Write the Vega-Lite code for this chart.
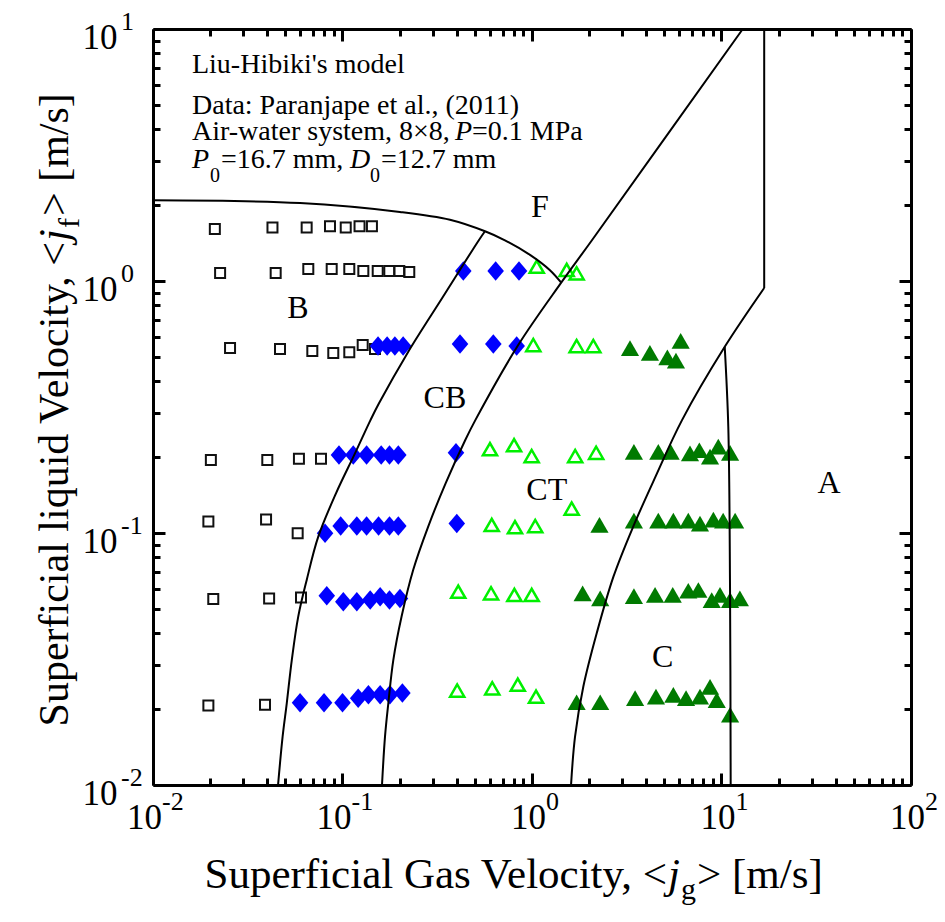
{
  "$schema": "https://vega.github.io/schema/vega-lite/v6.json",
  "width": 758,
  "height": 756,
  "autosize": "none",
  "padding": {"left": 153, "top": 29, "right": 34, "bottom": 137},
  "background": "white",
  "config": {"view": {"stroke": null}, "font": "Liberation Serif", "text": {"font": "Liberation Serif", "color": "#000000"}},
  "datasets": {
    "pts": [
      {"jg": 0.0212, "jf": 1.61, "r": "B"}, {"jg": 0.0427, "jf": 1.63, "r": "B"}, {"jg": 0.0647, "jf": 1.63, "r": "B"}, {"jg": 0.0859, "jf": 1.65, "r": "B"}, {"jg": 0.104, "jf": 1.63, "r": "B"}, {"jg": 0.123, "jf": 1.65, "r": "B"}, {"jg": 0.143, "jf": 1.65, "r": "B"},
      {"jg": 0.0226, "jf": 1.077, "r": "B"}, {"jg": 0.0444, "jf": 1.077, "r": "B"}, {"jg": 0.066, "jf": 1.116, "r": "B"}, {"jg": 0.0877, "jf": 1.116, "r": "B"}, {"jg": 0.1086, "jf": 1.116, "r": "B"}, {"jg": 0.1288, "jf": 1.096, "r": "B"}, {"jg": 0.1534, "jf": 1.096, "r": "B"}, {"jg": 0.1766, "jf": 1.096, "r": "B"}, {"jg": 0.1994, "jf": 1.096, "r": "B"}, {"jg": 0.2251, "jf": 1.086, "r": "B"},
      {"jg": 0.0255, "jf": 0.542, "r": "B"}, {"jg": 0.0468, "jf": 0.537, "r": "B"}, {"jg": 0.0693, "jf": 0.527, "r": "B"}, {"jg": 0.0894, "jf": 0.518, "r": "B"}, {"jg": 0.1086, "jf": 0.522, "r": "B"}, {"jg": 0.1278, "jf": 0.557, "r": "B"}, {"jg": 0.1484, "jf": 0.537, "r": "B"},
      {"jg": 0.0202, "jf": 0.195, "r": "B"}, {"jg": 0.0401, "jf": 0.195, "r": "B"}, {"jg": 0.0589, "jf": 0.197, "r": "B"}, {"jg": 0.077, "jf": 0.197, "r": "B"},
      {"jg": 0.0196, "jf": 0.111, "r": "B"}, {"jg": 0.0395, "jf": 0.113, "r": "B"}, {"jg": 0.058, "jf": 0.0998, "r": "B"},
      {"jg": 0.0208, "jf": 0.0547, "r": "B"}, {"jg": 0.041, "jf": 0.055, "r": "B"}, {"jg": 0.0604, "jf": 0.0555, "r": "B"},
      {"jg": 0.0196, "jf": 0.0207, "r": "B"}, {"jg": 0.039, "jf": 0.0208, "r": "B"},
      {"jg": 0.154, "jf": 0.552, "r": "CB"}, {"jg": 0.172, "jf": 0.552, "r": "CB"}, {"jg": 0.189, "jf": 0.552, "r": "CB"}, {"jg": 0.209, "jf": 0.552, "r": "CB"},
      {"jg": 0.434, "jf": 1.096, "r": "CB"}, {"jg": 0.643, "jf": 1.096, "r": "CB"}, {"jg": 0.854, "jf": 1.096, "r": "CB"},
      {"jg": 0.417, "jf": 0.562, "r": "CB"}, {"jg": 0.625, "jf": 0.562, "r": "CB"}, {"jg": 0.83, "jf": 0.552, "r": "CB"},
      {"jg": 0.0958, "jf": 0.204, "r": "CB"}, {"jg": 0.114, "jf": 0.204, "r": "CB"}, {"jg": 0.134, "jf": 0.204, "r": "CB"}, {"jg": 0.16, "jf": 0.204, "r": "CB"}, {"jg": 0.177, "jf": 0.204, "r": "CB"}, {"jg": 0.197, "jf": 0.204, "r": "CB"}, {"jg": 0.397, "jf": 0.208, "r": "CB"},
      {"jg": 0.0809, "jf": 0.0998, "r": "CB"}, {"jg": 0.0978, "jf": 0.1066, "r": "CB"}, {"jg": 0.119, "jf": 0.1066, "r": "CB"}, {"jg": 0.134, "jf": 0.1066, "r": "CB"}, {"jg": 0.155, "jf": 0.1066, "r": "CB"}, {"jg": 0.177, "jf": 0.1066, "r": "CB"}, {"jg": 0.197, "jf": 0.1066, "r": "CB"}, {"jg": 0.401, "jf": 0.109, "r": "CB"},
      {"jg": 0.0826, "jf": 0.0564, "r": "CB"}, {"jg": 0.101, "jf": 0.0533, "r": "CB"}, {"jg": 0.119, "jf": 0.0533, "r": "CB"}, {"jg": 0.14, "jf": 0.0542, "r": "CB"}, {"jg": 0.158, "jf": 0.0558, "r": "CB"}, {"jg": 0.177, "jf": 0.0542, "r": "CB"}, {"jg": 0.201, "jf": 0.055, "r": "CB"},
      {"jg": 0.0597, "jf": 0.0212, "r": "CB"}, {"jg": 0.0799, "jf": 0.0212, "r": "CB"}, {"jg": 0.1, "jf": 0.0212, "r": "CB"}, {"jg": 0.121, "jf": 0.0221, "r": "CB"}, {"jg": 0.137, "jf": 0.0228, "r": "CB"}, {"jg": 0.158, "jf": 0.0228, "r": "CB"}, {"jg": 0.178, "jf": 0.0228, "r": "CB"}, {"jg": 0.207, "jf": 0.0232, "r": "CB"},
      {"jg": 1.059, "jf": 1.14, "r": "CT"}, {"jg": 1.524, "jf": 1.106, "r": "CT"}, {"jg": 1.72, "jf": 1.073, "r": "CT"},
      {"jg": 1.016, "jf": 0.557, "r": "CT"}, {"jg": 1.72, "jf": 0.552, "r": "CT"}, {"jg": 2.107, "jf": 0.552, "r": "CT"},
      {"jg": 0.6, "jf": 0.215, "r": "CT"}, {"jg": 0.804, "jf": 0.223, "r": "CT"}, {"jg": 0.996, "jf": 0.202, "r": "CT"}, {"jg": 1.69, "jf": 0.202, "r": "CT"}, {"jg": 2.18, "jf": 0.208, "r": "CT"},
      {"jg": 1.62, "jf": 0.125, "r": "CT"},
      {"jg": 0.613, "jf": 0.1076, "r": "CT"}, {"jg": 0.813, "jf": 0.1054, "r": "CT"}, {"jg": 1.04, "jf": 0.1066, "r": "CT"},
      {"jg": 0.408, "jf": 0.0585, "r": "CT"}, {"jg": 0.608, "jf": 0.0576, "r": "CT"}, {"jg": 0.807, "jf": 0.0568, "r": "CT"}, {"jg": 0.996, "jf": 0.0568, "r": "CT"},
      {"jg": 0.403, "jf": 0.0237, "r": "CT"}, {"jg": 0.617, "jf": 0.0242, "r": "CT"}, {"jg": 0.841, "jf": 0.025, "r": "CT"}, {"jg": 1.05, "jf": 0.0224, "r": "CT"},
      {"jg": 3.29, "jf": 0.541, "r": "C"}, {"jg": 4.19, "jf": 0.519, "r": "C"}, {"jg": 5.18, "jf": 0.498, "r": "C"}, {"jg": 5.75, "jf": 0.483, "r": "C"}, {"jg": 6.09, "jf": 0.579, "r": "C"},
      {"jg": 3.45, "jf": 0.21, "r": "C"}, {"jg": 4.64, "jf": 0.21, "r": "C"}, {"jg": 5.39, "jf": 0.21, "r": "C"}, {"jg": 6.82, "jf": 0.207, "r": "C"}, {"jg": 7.64, "jf": 0.213, "r": "C"}, {"jg": 8.7, "jf": 0.201, "r": "C"}, {"jg": 9.62, "jf": 0.22, "r": "C"}, {"jg": 11.1, "jf": 0.208, "r": "C"},
      {"jg": 2.27, "jf": 0.1076, "r": "C"}, {"jg": 3.45, "jf": 0.112, "r": "C"}, {"jg": 4.64, "jf": 0.112, "r": "C"}, {"jg": 5.57, "jf": 0.112, "r": "C"}, {"jg": 6.68, "jf": 0.112, "r": "C"}, {"jg": 7.7, "jf": 0.109, "r": "C"}, {"jg": 9.06, "jf": 0.113, "r": "C"}, {"jg": 10.2, "jf": 0.112, "r": "C"}, {"jg": 11.8, "jf": 0.112, "r": "C"},
      {"jg": 1.85, "jf": 0.0576, "r": "C"}, {"jg": 2.29, "jf": 0.055, "r": "C"}, {"jg": 3.45, "jf": 0.0562, "r": "C"}, {"jg": 4.46, "jf": 0.0568, "r": "C"}, {"jg": 5.53, "jf": 0.0568, "r": "C"}, {"jg": 6.68, "jf": 0.059, "r": "C"}, {"jg": 7.55, "jf": 0.0594, "r": "C"}, {"jg": 8.88, "jf": 0.0542, "r": "C"}, {"jg": 9.82, "jf": 0.0568, "r": "C"}, {"jg": 11.1, "jf": 0.0542, "r": "C"}, {"jg": 12.5, "jf": 0.055, "r": "C"},
      {"jg": 1.72, "jf": 0.0213, "r": "C"}, {"jg": 2.29, "jf": 0.0213, "r": "C"}, {"jg": 3.5, "jf": 0.0221, "r": "C"}, {"jg": 4.51, "jf": 0.0224, "r": "C"}, {"jg": 5.57, "jf": 0.0228, "r": "C"}, {"jg": 6.5, "jf": 0.0221, "r": "C"}, {"jg": 7.7, "jf": 0.0224, "r": "C"}, {"jg": 8.7, "jf": 0.0245, "r": "C"}, {"jg": 9.44, "jf": 0.0217, "r": "C"}, {"jg": 11.1, "jf": 0.019, "r": "C"}
    ],
    "curves": [
      {"c": "BF", "i": 0, "jg": 0.01, "jf": 2.09}, {"c": "BF", "i": 1, "jg": 0.0597, "jf": 2.04}, {"c": "BF", "i": 2, "jg": 0.201, "jf": 1.88}, {"c": "BF", "i": 3, "jg": 0.369, "jf": 1.75}, {"c": "BF", "i": 4, "jg": 0.565, "jf": 1.575}, {"c": "BF", "i": 5, "jg": 0.72, "jf": 1.45}, {"c": "BF", "i": 6, "jg": 0.976, "jf": 1.27}, {"c": "BF", "i": 7, "jg": 1.24, "jf": 1.106}, {"c": "BF", "i": 8, "jg": 1.426, "jf": 0.985},
      {"c": "BCB", "i": 0, "jg": 0.0457, "jf": 0.01}, {"c": "BCB", "i": 1, "jg": 0.0483, "jf": 0.01556}, {"c": "BCB", "i": 2, "jg": 0.0508, "jf": 0.0211}, {"c": "BCB", "i": 3, "jg": 0.054, "jf": 0.0313}, {"c": "BCB", "i": 4, "jg": 0.0584, "jf": 0.0466}, {"c": "BCB", "i": 5, "jg": 0.0647, "jf": 0.065}, {"c": "BCB", "i": 6, "jg": 0.0745, "jf": 0.0967}, {"c": "BCB", "i": 7, "jg": 0.0924, "jf": 0.1437}, {"c": "BCB", "i": 8, "jg": 0.1164, "jf": 0.207}, {"c": "BCB", "i": 9, "jg": 0.1405, "jf": 0.2805}, {"c": "BCB", "i": 10, "jg": 0.1558, "jf": 0.327}, {"c": "BCB", "i": 11, "jg": 0.2216, "jf": 0.522}, {"c": "BCB", "i": 12, "jg": 0.3391, "jf": 0.866}, {"c": "BCB", "i": 13, "jg": 0.5252, "jf": 1.455}, {"c": "BCB", "i": 14, "jg": 0.565, "jf": 1.575},
      {"c": "CBCT", "i": 0, "jg": 0.1616, "jf": 0.01}, {"c": "CBCT", "i": 1, "jg": 0.1676, "jf": 0.01556}, {"c": "CBCT", "i": 2, "jg": 0.1745, "jf": 0.0211}, {"c": "CBCT", "i": 3, "jg": 0.1854, "jf": 0.0313}, {"c": "CBCT", "i": 4, "jg": 0.205, "jf": 0.0466}, {"c": "CBCT", "i": 5, "jg": 0.236, "jf": 0.0713}, {"c": "CBCT", "i": 6, "jg": 0.2833, "jf": 0.106}, {"c": "CBCT", "i": 7, "jg": 0.35, "jf": 0.1575}, {"c": "CBCT", "i": 8, "jg": 0.4446, "jf": 0.234}, {"c": "CBCT", "i": 9, "jg": 0.5024, "jf": 0.2805}, {"c": "CBCT", "i": 10, "jg": 0.8457, "jf": 0.557}, {"c": "CBCT", "i": 11, "jg": 1.426, "jf": 0.985}, {"c": "CBCT", "i": 12, "jg": 2.076, "jf": 1.455}, {"c": "CBCT", "i": 13, "jg": 12.95, "jf": 10},
      {"c": "CTC", "i": 0, "jg": 1.607, "jf": 0.01}, {"c": "CTC", "i": 1, "jg": 1.687, "jf": 0.01556}, {"c": "CTC", "i": 2, "jg": 1.865, "jf": 0.02455}, {"c": "CTC", "i": 3, "jg": 2.195, "jf": 0.04}, {"c": "CTC", "i": 4, "jg": 2.69, "jf": 0.0671}, {"c": "CTC", "i": 5, "jg": 3.42, "jf": 0.106}, {"c": "CTC", "i": 6, "jg": 4.485, "jf": 0.1673}, {"c": "CTC", "i": 7, "jg": 6.19, "jf": 0.2805}, {"c": "CTC", "i": 8, "jg": 10.4, "jf": 0.548}, {"c": "CTC", "i": 9, "jg": 16.8, "jf": 0.938},
      {"c": "CTCV", "i": 0, "jg": 16.8, "jf": 0.938}, {"c": "CTCV", "i": 1, "jg": 16.8, "jf": 10},
      {"c": "CA", "i": 0, "jg": 10.4, "jf": 0.548}, {"c": "CA", "i": 1, "jg": 10.86, "jf": 0.264}, {"c": "CA", "i": 2, "jg": 11.09, "jf": 0.0612}, {"c": "CA", "i": 3, "jg": 11.18, "jf": 0.01}
    ],
    "regions": [
      {"jg": 0.0582, "jf": 0.782, "t": "B"}, {"jg": 1.1, "jf": 1.97, "t": "F"}, {"jg": 0.347, "jf": 0.343, "t": "CB"}, {"jg": 1.196, "jf": 0.148, "t": "CT"}, {"jg": 4.9, "jf": 0.0323, "t": "C"}, {"jg": 36.9, "jf": 0.158, "t": "A"}
    ],
    "notes": [
      {"jg": 0.01606, "jf": 7.22, "t": "Liu-Hibiki's model"},
      {"jg": 0.01606, "jf": 4.95, "t": "Data: Paranjape et al., (2011)"},
      {"jg": 0.01606, "jf": 3.885, "t": "Air-water system, 8×8, "}
    ],
    "xexp": [{"v": 0.01, "e": "-2"}, {"v": 0.1, "e": "-1"}, {"v": 1, "e": "0"}, {"v": 10, "e": "1"}, {"v": 100, "e": "2"}],
    "yexp": [{"v": 0.01, "e": "-2"}, {"v": 0.1, "e": "-1"}, {"v": 1, "e": "0"}, {"v": 10, "e": "1"}]
  },
  "layer": [
    {
      "data": {"name": "pts"},
      "transform": [{"filter": "datum.r === 'B'"}],
      "mark": {"type": "point", "shape": "square", "filled": false, "size": 100, "strokeWidth": 2, "color": "#111111", "opacity": 1},
      "encoding": {
        "x": {"field": "jg", "type": "quantitative", "scale": {"type": "log", "domain": [0.01, 100], "nice": false},
          "axis": {"orient": "bottom", "title": null, "grid": false,
            "values": [0.01,0.02,0.03,0.04,0.05,0.06,0.07,0.08,0.09,0.1,0.2,0.3,0.4,0.5,0.6,0.7,0.8,0.9,1,2,3,4,5,6,7,8,9,10,20,30,40,50,60,70,80,90,100],
            "domainColor": "#000000", "domainWidth": 3, "tickColor": "#000000", "tickWidth": 3,
            "tickSize": {"condition": {"test": "abs(log(datum.value)/LN10 - round(log(datum.value)/LN10)) < 0.001", "value": -12}, "value": -7},
            "labelExpr": "abs(log(datum.value)/LN10 - round(log(datum.value)/LN10)) < 0.001 ? '10' : ''",
            "labelFont": "Liberation Serif", "labelFontSize": 35, "labelColor": "#000000", "labelPadding": 27,
            "labelFlush": false, "labelOverlap": false, "labelBound": false,
            "labelOffset": {"condition": {"test": "datum.value < 0.9", "value": -9}, "value": -4}}},
        "y": {"field": "jf", "type": "quantitative", "scale": {"type": "log", "domain": [0.01, 10], "nice": false},
          "axis": {"orient": "left", "title": null, "grid": false,
            "values": [0.01,0.02,0.03,0.04,0.05,0.06,0.07,0.08,0.09,0.1,0.2,0.3,0.4,0.5,0.6,0.7,0.8,0.9,1,2,3,4,5,6,7,8,9,10],
            "domainColor": "#000000", "domainWidth": 3, "tickColor": "#000000", "tickWidth": 3,
            "tickSize": {"condition": {"test": "abs(log(datum.value)/LN10 - round(log(datum.value)/LN10)) < 0.001", "value": -12}, "value": -7},
            "labelExpr": "abs(log(datum.value)/LN10 - round(log(datum.value)/LN10)) < 0.001 ? '10' : ''",
            "labelFont": "Liberation Serif", "labelFontSize": 35, "labelColor": "#000000", "labelPadding": 48,
            "labelFlush": false, "labelOverlap": false, "labelBound": false, "labelOffset": 8}}
      }
    },
    {
      "data": {"name": "pts"},
      "transform": [{"filter": "datum.r === 'CB'"}],
      "mark": {"type": "point", "shape": "M0,-1L0.85,0L0,1L-0.85,0Z", "filled": true, "size": 380, "color": "#0000FF", "opacity": 1},
      "encoding": {
        "x": {"field": "jg", "type": "quantitative", "scale": {"type": "log", "domain": [0.01, 100], "nice": false},
          "axis": {"orient": "top", "title": null, "grid": false, "labels": false,
            "values": [0.01,0.02,0.03,0.04,0.05,0.06,0.07,0.08,0.09,0.1,0.2,0.3,0.4,0.5,0.6,0.7,0.8,0.9,1,2,3,4,5,6,7,8,9,10,20,30,40,50,60,70,80,90,100],
            "domainColor": "#000000", "domainWidth": 3, "tickColor": "#000000", "tickWidth": 3,
            "tickSize": {"condition": {"test": "abs(log(datum.value)/LN10 - round(log(datum.value)/LN10)) < 0.001", "value": -12}, "value": -7}}},
        "y": {"field": "jf", "type": "quantitative", "scale": {"type": "log", "domain": [0.01, 10], "nice": false},
          "axis": {"orient": "right", "title": null, "grid": false, "labels": false,
            "values": [0.01,0.02,0.03,0.04,0.05,0.06,0.07,0.08,0.09,0.1,0.2,0.3,0.4,0.5,0.6,0.7,0.8,0.9,1,2,3,4,5,6,7,8,9,10],
            "domainColor": "#000000", "domainWidth": 3, "tickColor": "#000000", "tickWidth": 3,
            "tickSize": {"condition": {"test": "abs(log(datum.value)/LN10 - round(log(datum.value)/LN10)) < 0.001", "value": -12}, "value": -7}}}
      }
    },
    {
      "data": {"name": "pts"},
      "transform": [{"filter": "datum.r === 'CT'"}],
      "mark": {"type": "point", "shape": "triangle-up", "filled": false, "size": 200, "strokeWidth": 2.5, "color": "#00F000", "opacity": 1},
      "encoding": {
        "x": {"field": "jg", "type": "quantitative", "scale": {"type": "log", "domain": [0.01, 100], "nice": false}, "axis": null},
        "y": {"field": "jf", "type": "quantitative", "scale": {"type": "log", "domain": [0.01, 10], "nice": false}, "axis": null}
      }
    },
    {
      "data": {"name": "pts"},
      "transform": [{"filter": "datum.r === 'C'"}],
      "mark": {"type": "point", "shape": "triangle-up", "filled": true, "size": 330, "color": "#007A00", "opacity": 1},
      "encoding": {
        "x": {"field": "jg", "type": "quantitative", "scale": {"type": "log", "domain": [0.01, 100], "nice": false}, "axis": null},
        "y": {"field": "jf", "type": "quantitative", "scale": {"type": "log", "domain": [0.01, 10], "nice": false}, "axis": null}
      }
    },
    {
      "data": {"name": "curves"},
      "mark": {"type": "line", "color": "#000000", "strokeWidth": 2, "interpolate": "catmull-rom"},
      "encoding": {
        "x": {"field": "jg", "type": "quantitative", "scale": {"type": "log", "domain": [0.01, 100], "nice": false}, "axis": null},
        "y": {"field": "jf", "type": "quantitative", "scale": {"type": "log", "domain": [0.01, 10], "nice": false}, "axis": null},
        "detail": {"field": "c", "type": "nominal"},
        "order": {"field": "i", "type": "quantitative"}
      }
    },
    {
      "data": {"name": "regions"},
      "mark": {"type": "text", "fontSize": 32, "align": "center", "baseline": "middle", "font": "Liberation Serif", "color": "#000000"},
      "encoding": {
        "x": {"field": "jg", "type": "quantitative", "scale": {"type": "log", "domain": [0.01, 100], "nice": false}, "axis": null},
        "y": {"field": "jf", "type": "quantitative", "scale": {"type": "log", "domain": [0.01, 10], "nice": false}, "axis": null},
        "text": {"field": "t"}
      }
    },
    {
      "data": {"name": "notes"},
      "mark": {"type": "text", "fontSize": 28, "align": "left", "baseline": "middle", "font": "Liberation Serif", "color": "#000000"},
      "encoding": {
        "x": {"field": "jg", "type": "quantitative", "scale": {"type": "log", "domain": [0.01, 100], "nice": false}, "axis": null},
        "y": {"field": "jf", "type": "quantitative", "scale": {"type": "log", "domain": [0.01, 10], "nice": false}, "axis": null},
        "text": {"field": "t"}
      }
    },
    {
      "data": {"values": [{"a": "P", "b": "=0.1 MPa"}]},
      "encoding": {
        "x": {"datum": 0.01606, "type": "quantitative", "scale": {"type": "log", "domain": [0.01, 100], "nice": false}, "axis": null},
        "y": {"datum": 3.885, "type": "quantitative", "scale": {"type": "log", "domain": [0.01, 10], "nice": false}, "axis": null}
      },
      "layer": [
        {"mark": {"type": "text", "fontSize": 28, "fontStyle": "italic", "align": "left", "baseline": "middle", "dx": 263, "font": "Liberation Serif", "color": "#000000"}, "encoding": {"text": {"field": "a"}}},
        {"mark": {"type": "text", "fontSize": 28, "align": "left", "baseline": "middle", "dx": 280, "font": "Liberation Serif", "color": "#000000"}, "encoding": {"text": {"field": "b"}}}
      ]
    },
    {
      "data": {"values": [{"p": "P", "z": "0", "a": "=16.7 mm,", "d": "D", "b": "=12.7 mm"}]},
      "encoding": {
        "x": {"datum": 0.01606, "type": "quantitative", "scale": {"type": "log", "domain": [0.01, 100], "nice": false}, "axis": null},
        "y": {"datum": 3.02, "type": "quantitative", "scale": {"type": "log", "domain": [0.01, 10], "nice": false}, "axis": null}
      },
      "layer": [
        {"mark": {"type": "text", "fontSize": 28, "fontStyle": "italic", "align": "left", "baseline": "middle", "dx": 0, "font": "Liberation Serif", "color": "#000000"}, "encoding": {"text": {"field": "p"}}},
        {"mark": {"type": "text", "fontSize": 20, "align": "left", "baseline": "middle", "dx": 18, "dy": 16, "font": "Liberation Serif", "color": "#000000"}, "encoding": {"text": {"field": "z"}}},
        {"mark": {"type": "text", "fontSize": 28, "align": "left", "baseline": "middle", "dx": 29, "font": "Liberation Serif", "color": "#000000"}, "encoding": {"text": {"field": "a"}}},
        {"mark": {"type": "text", "fontSize": 28, "fontStyle": "italic", "align": "left", "baseline": "middle", "dx": 158, "font": "Liberation Serif", "color": "#000000"}, "encoding": {"text": {"field": "d"}}},
        {"mark": {"type": "text", "fontSize": 20, "align": "left", "baseline": "middle", "dx": 178, "dy": 16, "font": "Liberation Serif", "color": "#000000"}, "encoding": {"text": {"field": "z"}}},
        {"mark": {"type": "text", "fontSize": 28, "align": "left", "baseline": "middle", "dx": 189, "font": "Liberation Serif", "color": "#000000"}, "encoding": {"text": {"field": "b"}}}
      ]
    },
    {
      "data": {"name": "xexp"},
      "transform": [{"filter": "datum.v < 0.9"}],
      "mark": {"type": "text", "fontSize": 26, "align": "left", "baseline": "middle", "dx": 9, "dy": 17, "font": "Liberation Serif", "color": "#000000"},
      "encoding": {
        "x": {"field": "v", "type": "quantitative", "scale": {"type": "log", "domain": [0.01, 100], "nice": false}, "axis": null},
        "y": {"datum": 0.01, "type": "quantitative", "scale": {"type": "log", "domain": [0.01, 10], "nice": false}, "axis": null},
        "text": {"field": "e"}
      }
    },
    {
      "data": {"name": "xexp"},
      "transform": [{"filter": "datum.v > 0.9"}],
      "mark": {"type": "text", "fontSize": 26, "align": "left", "baseline": "middle", "dx": 14, "dy": 17, "font": "Liberation Serif", "color": "#000000"},
      "encoding": {
        "x": {"field": "v", "type": "quantitative", "scale": {"type": "log", "domain": [0.01, 100], "nice": false}, "axis": null},
        "y": {"datum": 0.01, "type": "quantitative", "scale": {"type": "log", "domain": [0.01, 10], "nice": false}, "axis": null},
        "text": {"field": "e"}
      }
    },
    {
      "data": {"name": "yexp"},
      "mark": {"type": "text", "fontSize": 26, "align": "left", "baseline": "middle", "dx": -32, "dy": -7, "font": "Liberation Serif", "color": "#000000"},
      "encoding": {
        "x": {"datum": 0.01, "type": "quantitative", "scale": {"type": "log", "domain": [0.01, 100], "nice": false}, "axis": null},
        "y": {"field": "v", "type": "quantitative", "scale": {"type": "log", "domain": [0.01, 10], "nice": false}, "axis": null},
        "text": {"field": "e"}
      }
    },
    {
      "data": {"values": [{"t1": "Superficial Gas Velocity, <", "t2": "j", "t3": "g", "t4": "> [m/s]"}]},
      "encoding": {
        "x": {"datum": 5.159, "type": "quantitative", "scale": {"type": "log", "domain": [0.01, 100], "nice": false}, "axis": null},
        "y": {"datum": 0.01, "type": "quantitative", "scale": {"type": "log", "domain": [0.01, 10], "nice": false}, "axis": null}
      },
      "layer": [
        {"mark": {"type": "text", "fontSize": 43, "align": "right", "baseline": "alphabetic", "dy": 103, "font": "Liberation Serif", "color": "#000000"}, "encoding": {"text": {"field": "t1"}}},
        {"mark": {"type": "text", "fontSize": 43, "fontStyle": "italic", "align": "left", "baseline": "alphabetic", "dx": 1, "dy": 103, "font": "Liberation Serif", "color": "#000000"}, "encoding": {"text": {"field": "t2"}}},
        {"mark": {"type": "text", "fontSize": 30, "align": "left", "baseline": "alphabetic", "dx": 14, "dy": 114, "font": "Liberation Serif", "color": "#000000"}, "encoding": {"text": {"field": "t3"}}},
        {"mark": {"type": "text", "fontSize": 43, "align": "left", "baseline": "alphabetic", "dx": 30, "dy": 103, "font": "Liberation Serif", "color": "#000000"}, "encoding": {"text": {"field": "t4"}}}
      ]
    },
    {
      "data": {"values": [{"t1": "Superficial liquid Velocity, <", "t2": "j", "t3": "f", "t4": "> [m/s]"}]},
      "encoding": {
        "x": {"datum": 0.01, "type": "quantitative", "scale": {"type": "log", "domain": [0.01, 100], "nice": false}, "axis": null},
        "y": {"datum": 1.428, "type": "quantitative", "scale": {"type": "log", "domain": [0.01, 10], "nice": false}, "axis": null}
      },
      "layer": [
        {"mark": {"type": "text", "fontSize": 42, "angle": 270, "align": "right", "baseline": "alphabetic", "dy": -85, "font": "Liberation Serif", "color": "#000000"}, "encoding": {"text": {"field": "t1"}}},
        {"mark": {"type": "text", "fontSize": 42, "angle": 270, "fontStyle": "italic", "align": "left", "baseline": "alphabetic", "dx": 1, "dy": -85, "font": "Liberation Serif", "color": "#000000"}, "encoding": {"text": {"field": "t2"}}},
        {"mark": {"type": "text", "fontSize": 30, "angle": 270, "align": "left", "baseline": "alphabetic", "dx": 14, "dy": -74, "font": "Liberation Serif", "color": "#000000"}, "encoding": {"text": {"field": "t3"}}},
        {"mark": {"type": "text", "fontSize": 42, "angle": 270, "align": "left", "baseline": "alphabetic", "dx": 26, "dy": -85, "font": "Liberation Serif", "color": "#000000"}, "encoding": {"text": {"field": "t4"}}}
      ]
    }
  ],
  "resolve": {"axis": {"x": "independent", "y": "independent"}}
}
